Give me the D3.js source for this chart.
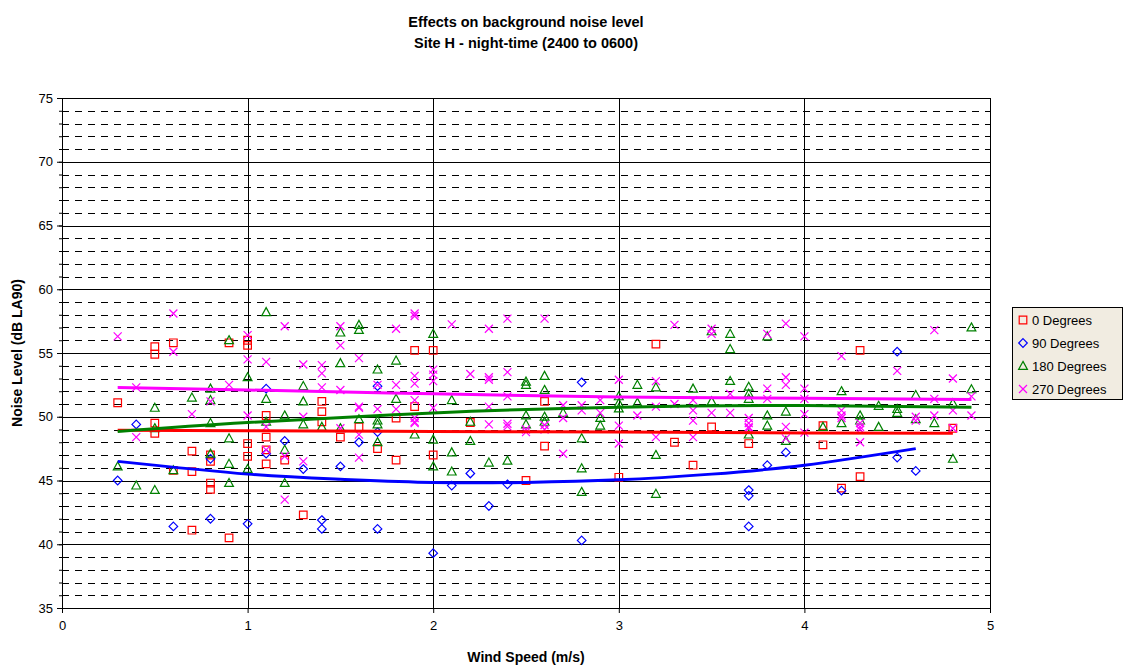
<!DOCTYPE html>
<html>
<head>
<meta charset="utf-8">
<script src="https://cdn.jsdelivr.net/npm/d3@7"></script>
<style>
  body { margin: 0; background: #fff; font-family: Arial, "Liberation Sans", sans-serif; }
</style>
</head>
<body>
<div id="chart"></div>
<script>
// Data: [wind speed (m/s), noise level (dB LA90)]
const deg0 = [
  [0.3,51.1],[0.5,55.5],[0.5,54.9],[0.5,49.5],[0.5,48.7],[0.6,55.8],[0.6,45.8],
  [0.7,47.3],[0.7,45.7],[0.7,41.1],[0.8,47.0],[0.8,46.5],[0.8,44.8],[0.8,44.3],
  [0.9,55.8],[0.9,40.5],[1.0,56.0],[1.0,55.6],[1.0,47.9],[1.0,46.9],
  [1.1,50.1],[1.1,48.4],[1.1,47.4],[1.1,46.3],[1.2,46.6],[1.3,42.3],
  [1.4,51.2],[1.4,50.4],[1.4,49.6],[1.5,48.4],[1.6,49.2],[1.7,47.5],
  [1.8,49.9],[1.8,46.6],[1.9,55.2],[1.9,50.8],[2.0,55.2],[2.0,47.0],
  [2.2,49.55],[2.5,45.0],[2.6,51.2],[2.6,47.7],[3.0,45.25],[3.2,55.7],
  [3.3,48.0],[3.4,46.2],[3.5,49.2],[3.7,47.9],[4.1,49.3],[4.1,47.8],
  [4.2,44.4],[4.3,55.2],[4.3,45.3],[4.8,49.1]
];
const deg90 = [
  [0.3,45.0],[0.4,49.4],[0.6,41.4],[0.8,46.7],[0.8,42.0],[1.0,41.6],
  [1.1,52.2],[1.1,47.1],[1.2,48.1],[1.3,45.9],[1.4,41.9],[1.4,41.2],
  [1.5,46.1],[1.6,48.0],[1.7,52.4],[1.7,48.8],[1.7,41.2],[2.0,39.3],
  [2.1,44.6],[2.2,45.55],[2.3,43.0],[2.4,44.7],[2.8,52.7],[2.8,40.3],
  [3.7,44.25],[3.7,43.8],[3.7,41.4],[3.8,46.2],[3.9,47.2],[4.2,44.2],
  [4.5,55.1],[4.5,46.8],[4.6,45.75]
];
const deg180 = [
  [0.3,46.1],[0.4,44.6],[0.5,50.7],[0.5,49.1],[0.5,44.25],[0.6,45.8],[0.7,51.5],
  [0.8,52.2],[0.8,51.3],[0.8,49.5],[0.8,47.1],[0.9,56.0],[0.9,48.3],[0.9,46.3],[0.9,44.8],
  [1.0,53.1],[1.0,45.9],[1.1,58.2],[1.1,51.4],[1.1,49.6],[1.2,50.1],[1.2,47.4],[1.2,44.8],
  [1.3,52.4],[1.3,51.2],[1.3,49.4],[1.4,49.2],[1.5,56.6],[1.5,54.2],[1.5,49.1],
  [1.6,57.2],[1.6,56.8],[1.6,49.8],[1.7,53.7],[1.7,49.7],[1.7,49.4],[1.7,48.0],
  [1.8,54.4],[1.8,51.4],[1.9,48.6],[2.0,56.5],[2.0,48.2],[2.0,46.1],
  [2.1,51.3],[2.1,47.2],[2.1,45.7],[2.2,49.6],[2.2,48.1],[2.3,46.4],[2.4,46.55],
  [2.5,52.75],[2.5,52.5],[2.5,50.1],[2.5,49.4],[2.6,53.2],[2.6,52.1],[2.6,50.0],[2.6,49.6],
  [2.7,50.3],[2.8,48.3],[2.8,45.95],[2.8,44.1],[2.9,49.9],[2.9,49.3],
  [3.0,51.6],[3.0,51.05],[3.0,50.65],[3.1,52.5],[3.1,51.1],[3.2,52.3],[3.2,47.0],[3.2,43.95],
  [3.4,52.2],[3.5,56.7],[3.5,51.2],[3.6,56.5],[3.6,55.3],[3.6,52.8],
  [3.7,52.35],[3.7,51.8],[3.7,51.4],[3.7,48.6],[3.8,56.3],[3.8,50.1],[3.8,49.3],
  [3.9,50.4],[3.9,48.1],[4.1,49.2],[4.2,52.0],[4.2,49.5],[4.3,50.1],[4.3,49.7],
  [4.4,50.85],[4.4,49.2],[4.5,50.6],[4.5,50.3],[4.6,51.7],[4.6,49.8],[4.7,49.5],
  [4.8,51.05],[4.8,46.7],[4.9,57.0],[4.9,52.15]
];
const deg270 = [
  [0.3,56.3],[0.4,52.3],[0.4,48.4],[0.6,58.1],[0.6,55.1],[0.7,50.2],[0.8,51.2],[0.9,52.5],
  [1.0,56.4],[1.0,54.5],[1.0,50.1],[1.1,54.3],[1.1,49.2],[1.1,47.4],
  [1.2,57.1],[1.2,46.9],[1.2,43.5],[1.3,54.1],[1.3,50.0],[1.3,46.5],
  [1.4,54.05],[1.4,53.4],[1.4,52.3],[1.5,57.1],[1.5,55.6],[1.5,52.1],[1.5,49.1],
  [1.6,54.6],[1.6,50.8],[1.6,50.7],[1.6,48.6],[1.6,46.8],[1.7,52.5],[1.7,50.6],
  [1.8,56.9],[1.8,52.5],[1.8,50.6],
  [1.9,58.1],[1.9,57.9],[1.9,53.2],[1.9,52.6],[1.9,51.3],[1.9,49.9],[1.9,49.6],[1.9,49.5],
  [2.0,53.7],[2.0,53.3],[2.0,52.8],[2.0,50.7],[2.1,57.25],[2.2,53.35],
  [2.3,56.9],[2.3,53.1],[2.3,52.9],[2.3,50.8],[2.3,49.4],
  [2.4,57.7],[2.4,53.5],[2.4,51.6],[2.4,49.45],[2.4,49.25],[2.5,49.0],[2.5,48.8],
  [2.6,57.7],[2.6,49.35],[2.6,49.0],[2.7,50.9],[2.7,49.9],[2.7,47.1],
  [2.8,50.9],[2.8,50.5],[2.9,51.3],[2.9,50.3],[3.0,52.9],[3.0,49.3],[3.0,47.9],
  [3.1,50.1],[3.2,52.8],[3.2,50.8],[3.2,48.4],[3.3,57.2],[3.3,51.0],
  [3.4,51.3],[3.4,50.5],[3.4,49.7],[3.4,48.4],[3.5,56.9],[3.5,56.5],[3.5,50.3],
  [3.6,51.8],[3.6,50.3],[3.7,49.9],[3.7,49.5],[3.7,49.2],[3.7,49.1],
  [3.8,56.5],[3.8,52.2],[3.8,51.4],[3.9,57.3],[3.9,53.1],[3.9,52.5],[3.9,49.2],[3.9,48.3],
  [4.0,56.3],[4.0,52.2],[4.0,51.4],[4.0,50.2],[4.0,48.75],
  [4.2,54.75],[4.2,50.5],[4.2,50.1],[4.2,49.9],[4.3,49.5],[4.3,49.2],[4.3,49.0],[4.3,48.0],
  [4.5,53.6],[4.6,50.0],[4.6,49.7],[4.7,56.8],[4.7,51.4],[4.7,50.1],
  [4.8,53.0],[4.8,50.5],[4.8,49.1],[4.9,51.6],[4.9,50.1]
];

// Trend lines
const trend0   = [[0.3,48.95],[1,48.9],[2,48.85],[3,48.8],[4,48.72],[4.8,48.7]];
const trend90  = [[0.3,46.5],[1,45.5],[1.5,45.1],[2,44.85],[2.5,44.85],[3,45.05],[3.5,45.5],[4,46.2],[4.6,47.5]];
const trend180 = [[0.3,48.85],[1,49.55],[2,50.3],[3,50.75],[4,50.88],[4.9,50.75]];
const trend270 = [[0.3,52.3],[1,52.1],[2,51.8],[3,51.55],[4,51.45],[4.9,51.35]];

const seriesNames = ["0 Degrees", "90 Degrees", "180 Degrees", "270 Degrees"];
const seriesColors = ["#ff0000", "#0000ff", "#008000", "#ff00ff"];
const xTicks = [0, 1, 2, 3, 4, 5];
const yTicks = [35, 40, 45, 50, 55, 60, 65, 70, 75];

const series = [
  {name: seriesNames[0], color: seriesColors[0], shape: "square",   points: deg0,   trend: trend0},
  {name: seriesNames[1], color: seriesColors[1], shape: "diamond",  points: deg90,  trend: trend90},
  {name: seriesNames[2], color: seriesColors[2], shape: "triangle", points: deg180, trend: trend180},
  {name: seriesNames[3], color: seriesColors[3], shape: "cross",    points: deg270, trend: trend270}
];

const shapes = {
  square:   "M-3.8,-3.8h7.6v7.6h-7.6z",
  diamond:  "M0,-4.3L4.3,0L0,4.3L-4.3,0Z",
  triangle: "M0,-4.6L4.4,3.4H-4.4Z",
  cross:    "M-4,-4L4,4M4,-4L-4,4"
};

const margin = {top: 98, right: 134, bottom: 57, left: 62};
const width = 1124 - margin.left - margin.right;
const height = 665 - margin.top - margin.bottom;

const svg = d3.select("#chart")
  .append("svg")
    .attr("width", 1124)
    .attr("height", 665);

const g = svg.append("g")
  .attr("transform", `translate(${margin.left},${margin.top})`);

const x = d3.scaleLinear().domain([0, 5]).range([0, width]);
const y = d3.scaleLinear().domain([35, 75]).range([height, 0]);

// Horizontal gridlines: dashed minor every 1 dB, solid major every 5
const minor = d3.range(36, 75).filter(v => v % 5 !== 0);
g.append("g").selectAll("line")
  .data(minor)
  .enter().append("line")
    .attr("x1", 0).attr("x2", width)
    .attr("y1", d => Math.round(y(d)) + 0.5)
    .attr("y2", d => Math.round(y(d)) + 0.5)
    .attr("stroke", "#000")
    .attr("stroke-dasharray", "7,6");

g.append("g").selectAll("line")
  .data(yTicks.filter(v => v > 35 && v < 75))
  .enter().append("line")
    .attr("x1", 0).attr("x2", width)
    .attr("y1", d => Math.round(y(d)) + 0.5)
    .attr("y2", d => Math.round(y(d)) + 0.5)
    .attr("stroke", "#000");

g.append("g").selectAll("line")
  .data(xTicks.filter(v => v > 0 && v < 5))
  .enter().append("line")
    .attr("y1", 0).attr("y2", height)
    .attr("x1", d => Math.round(x(d)) + 0.5)
    .attr("x2", d => Math.round(x(d)) + 0.5)
    .attr("stroke", "#000");

// Plot frame
g.append("rect")
  .attr("x", 0.5).attr("y", 0.5)
  .attr("width", width).attr("height", height)
  .attr("fill", "none")
  .attr("stroke", "#000");

// Axes
g.append("g")
  .call(d3.axisLeft(y).tickValues(yTicks).tickSize(5).tickPadding(4));
g.append("g")
  .call(d3.axisLeft(y).tickValues(d3.range(35, 76)).tickSize(3).tickFormat(""));
g.append("g")
  .attr("transform", `translate(0,${height})`)
  .call(d3.axisBottom(x).tickValues(xTicks).tickFormat(d3.format("d")).tickSize(5).tickPadding(8));

g.selectAll(".domain").attr("stroke", "#000");
g.selectAll(".tick line").attr("stroke", "#000");
g.selectAll(".tick text")
  .style("font-family", "Arial, 'Liberation Sans', sans-serif")
  .style("font-size", "13px")
  .attr("fill", "#000");

// Markers
series.forEach(s => {
  g.append("g").selectAll("path")
    .data(s.points)
    .enter().append("path")
      .attr("transform", d => `translate(${x(d[0])},${y(d[1])})`)
      .attr("d", shapes[s.shape])
      .attr("fill", "none")
      .attr("stroke", s.color)
      .attr("stroke-width", 1.2);
});

// Trend lines
const line = d3.line()
  .x(d => x(d[0]))
  .y(d => y(d[1]))
  .curve(d3.curveNatural);

series.forEach(s => {
  g.append("path")
    .datum(s.trend)
    .attr("d", line)
    .attr("fill", "none")
    .attr("stroke", s.color)
    .attr("stroke-width", 3);
});

// Titles
svg.append("text")
  .attr("x", 526).attr("y", 27)
  .attr("text-anchor", "middle")
  .style("font-size", "14.5px")
  .style("font-weight", "bold")
  .text("Effects on background noise level");
svg.append("text")
  .attr("x", 526).attr("y", 48)
  .attr("text-anchor", "middle")
  .style("font-size", "14.5px")
  .style("font-weight", "bold")
  .text("Site H - night-time (2400 to 0600)");

svg.append("text")
  .attr("transform", `translate(22,${margin.top + height / 2}) rotate(-90)`)
  .attr("text-anchor", "middle")
  .style("font-size", "14px")
  .style("font-weight", "bold")
  .text("Noise Level (dB LA90)");

svg.append("text")
  .attr("x", margin.left + width / 2).attr("y", 662)
  .attr("text-anchor", "middle")
  .style("font-size", "14px")
  .style("font-weight", "bold")
  .text("Wind Speed (m/s)");

// Legend
const legend = svg.append("g")
  .attr("transform", "translate(1012,307)");

legend.append("rect")
  .attr("x", 0.5).attr("y", 0.5)
  .attr("width", 110).attr("height", 92)
  .attr("fill", "#f1ece1")
  .attr("stroke", "#000");

const legendItems = legend.selectAll(".legend-item")
  .data(series)
  .enter().append("g")
    .attr("class", "legend-item")
    .attr("transform", (d, i) => `translate(0,${13 + i * 23})`);

legendItems.append("path")
  .attr("transform", "translate(11,0)")
  .attr("d", d => shapes[d.shape])
  .attr("fill", "none")
  .attr("stroke", d => d.color)
  .attr("stroke-width", 1.2);

legendItems.append("text")
  .attr("x", 20)
  .attr("dy", "0.35em")
  .style("font-size", "13px")
  .text(d => d.name);
</script>
</body>
</html>
